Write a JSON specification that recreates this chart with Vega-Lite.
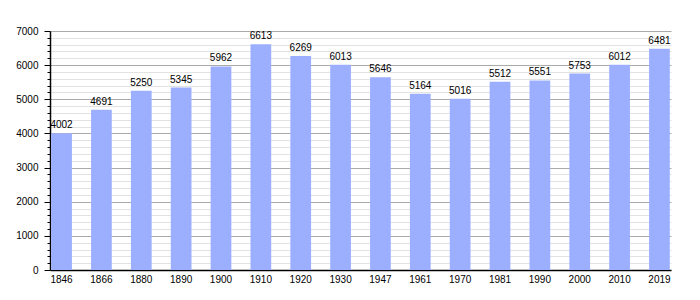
{
  "$schema": "https://vega.github.io/schema/vega-lite/v6.json",
  "width": 621,
  "height": 239,
  "autosize": {"type": "none"},
  "padding": {"left": 50, "top": 31, "right": 29, "bottom": 30},
  "background": "white",
  "config": {
    "view": {"stroke": null},
    "font": "Liberation Sans",
    "text": {"font": "Liberation Sans"}
  },
  "data": {
    "values": [
      {"year": "1846", "pop": 4002},
      {"year": "1866", "pop": 4691},
      {"year": "1880", "pop": 5250},
      {"year": "1890", "pop": 5345},
      {"year": "1900", "pop": 5962},
      {"year": "1910", "pop": 6613},
      {"year": "1920", "pop": 6269},
      {"year": "1930", "pop": 6013},
      {"year": "1947", "pop": 5646},
      {"year": "1961", "pop": 5164},
      {"year": "1970", "pop": 5016},
      {"year": "1981", "pop": 5512},
      {"year": "1990", "pop": 5551},
      {"year": "2000", "pop": 5753},
      {"year": "2010", "pop": 6012},
      {"year": "2019", "pop": 6481}
    ]
  },
  "encoding": {
    "x": {
      "field": "year",
      "type": "ordinal",
      "sort": null,
      "scale": {"paddingInner": 0.48, "paddingOuter": 0.03},
      "axis": {
        "title": null,
        "labelAngle": 0,
        "ticks": false,
        "domainColor": "black",
        "domainWidth": 1.5,
        "labelColor": "black",
        "labelFontSize": 10,
        "labelFont": "Liberation Sans",
        "labelPadding": 4
      }
    }
  },
  "layer": [
    {
      "mark": {"type": "bar", "color": "#9cafff"},
      "encoding": {
        "y": {
          "field": "pop",
          "type": "quantitative",
          "scale": {"domain": [0, 7000], "nice": false},
          "axis": {
            "orient": "left",
            "title": null,
            "values": [200,400,600,800,1200,1400,1600,1800,2200,2400,2600,2800,3200,3400,3600,3800,4200,4400,4600,4800,5200,5400,5600,5800,6200,6400,6600,6800],
            "labels": false,
            "domain": false,
            "tickSize": 3,
            "tickColor": "black",
            "grid": true,
            "gridColor": "#e2e2e2",
            "gridWidth": 1
          }
        }
      }
    },
    {
      "mark": {"type": "text", "dy": -8, "fontSize": 10, "color": "black", "font": "Liberation Sans"},
      "encoding": {
        "y": {
          "field": "pop",
          "type": "quantitative",
          "axis": {
            "orient": "left",
            "title": null,
            "values": [0,1000,2000,3000,4000,5000,6000,7000],
            "format": "d",
            "domain": true,
            "domainColor": "black",
            "domainWidth": 1.5,
            "tickSize": 6,
            "tickColor": "black",
            "labelColor": "black",
            "labelFontSize": 10,
            "labelFont": "Liberation Sans",
            "labelPadding": 6,
            "grid": true,
            "gridColor": "#aaaaaa",
            "gridWidth": 1
          }
        },
        "text": {"field": "pop", "type": "quantitative", "format": "d"}
      }
    }
  ],
  "resolve": {"axis": {"y": "independent"}}
}
